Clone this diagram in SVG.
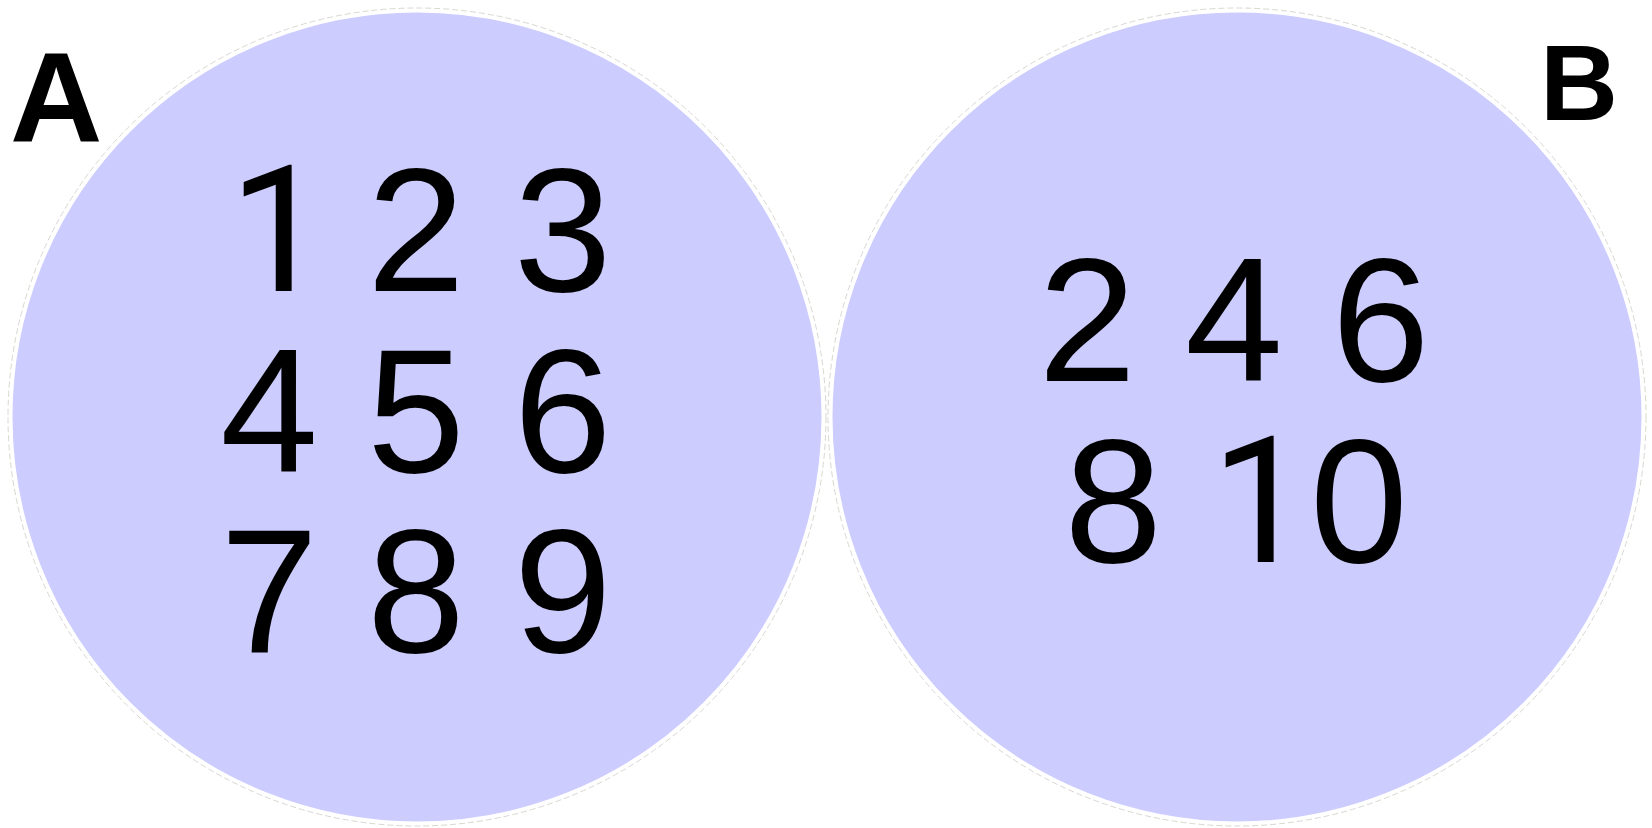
<svg xmlns="http://www.w3.org/2000/svg" width="1652" height="828" viewBox="0 0 1652 828">
<style>
.set{fill:#CCCCFF;stroke:#FFFFFF;stroke-width:3}
.edge{fill:none;stroke:#D8D8D0;stroke-width:1;stroke-dasharray:6 3}
.num{font-family:"Liberation Sans",Arial,sans-serif;font-size:176px;fill:#000;text-anchor:middle}
.st{text-anchor:start}
.one{font-family:Roboto,"Liberation Sans",sans-serif}
.lbl{font-family:"Liberation Sans",Arial,sans-serif;font-weight:bold;fill:#000}
</style>
<rect width="1652" height="828" fill="#FFFFFF"/>
<g id="setA">
<circle class="edge" cx="417" cy="417" r="409"/>
<circle class="set" cx="417" cy="417" r="406"/>
<text class="num st one" x="229" y="291">1</text>
<text class="num st" x="367" y="291" xml:space="preserve">2 3</text>
<text class="num" x="416" y="472" xml:space="preserve">4 5 6</text>
<text class="num" x="416" y="652" xml:space="preserve">7 8 9</text>
</g>
<g id="setB">
<circle class="edge" cx="1237" cy="417" r="409"/>
<circle class="set" cx="1237" cy="417" r="406"/>
<text class="num" x="1234" y="381" xml:space="preserve">2 4 6</text>
<text class="num" x="1236" y="562" xml:space="preserve">8 <tspan class="one">1</tspan>0</text>
</g>
<g id="labelA"><text class="lbl" x="10" y="142" font-size="128">A</text></g>
<g id="labelB"><text class="lbl" x="1540" y="120" font-size="108">B</text></g>
<g id="connectors"></g>
</svg>
